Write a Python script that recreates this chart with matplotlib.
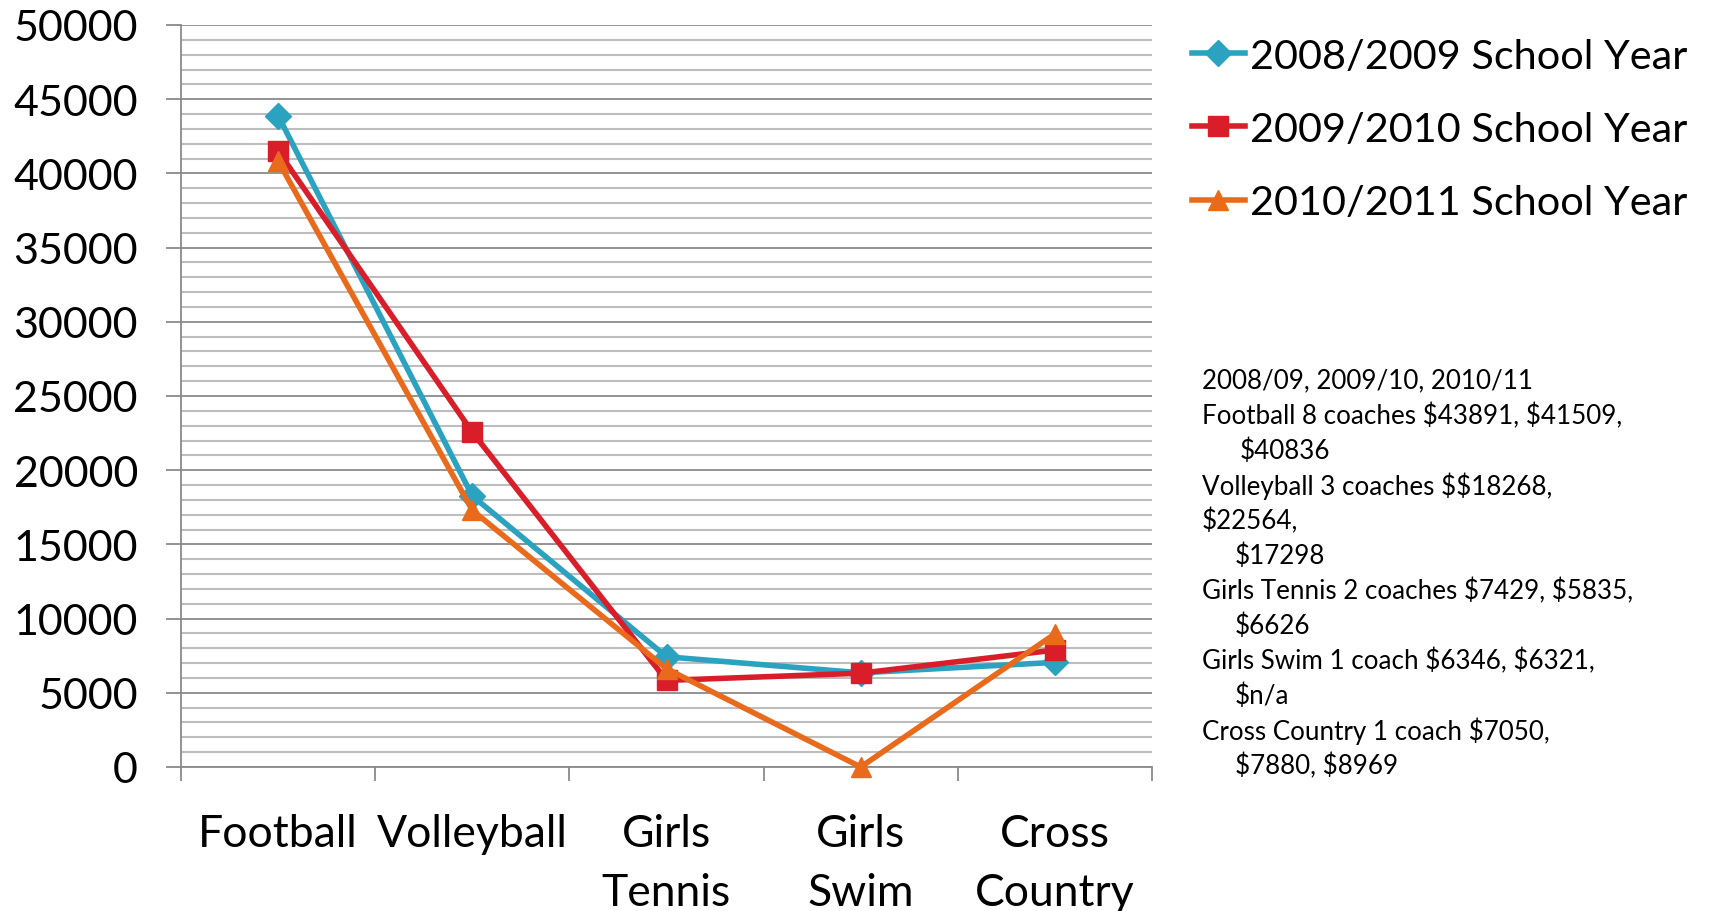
import numpy as np
import matplotlib.pyplot as plt
from matplotlib.ticker import MultipleLocator, FixedLocator, NullFormatter

plt.rcParams['font.family'] = ['Lato', 'DejaVu Sans']

sports = ['Football', 'Volleyball', 'Girls\nTennis', 'Girls\nSwim', 'Cross\nCountry']
y0809 = [43891, 18268, 7429, 6346, 7050]
y0910 = [41509, 22564, 5835, 6321, 7880]
y1011 = [40836, 17298, 6626, 0, 8969]
series_names = ['2008/2009 School Year', '2009/2010 School Year', '2010/2011 School Year']
colors = ['#2aa2c0', '#d91e2a', '#ea6a1c']
markers = ['D', 's', '^']
msizes = [13, 14, 15]

notes = [
    ('2008/09, 2009/10, 2010/11', 0),
    ('Football 8 coaches $43891, $41509,', 0),
    ('$40836', 1),
    ('Volleyball 3 coaches $$18268,', 0),
    ('$22564,', 0),
    ('$17298', 2),
    ('Girls Tennis 2 coaches $7429, $5835,', 0),
    ('$6626', 2),
    ('Girls Swim 1 coach $6346, $6321,', 0),
    ('$n/a', 2),
    ('Cross Country 1 coach $7050,', 0),
    ('$7880, $8969', 2),
]

W, H = 1709, 912
fig = plt.figure(figsize=(W / 100, H / 100), dpi=100)
ax = fig.add_axes([181 / W, 1 - 768 / H, (1152 - 181) / W, (768 - 26) / H])

x = np.arange(len(sports)) + 0.5
for vals, name, c, m, ms in zip([y0809, y0910, y1011], series_names, colors, markers, msizes):
    ax.plot(x, vals, color=c, lw=4, marker=m, ms=ms, label=name, zorder=3, clip_on=False)

ax.set_xlim(0, len(sports))
ax.set_ylim(0, 50000)

ax.yaxis.set_major_locator(MultipleLocator(5000))
ax.yaxis.set_minor_locator(MultipleLocator(1000))
ax.grid(which='minor', axis='y', color='#bdbdbd', lw=1.5, zorder=1)
ax.grid(which='major', axis='y', color='#8a8a8a', lw=1.3, zorder=1)
ax.tick_params(axis='y', which='major', length=11, width=1.3, color='#8a8a8a',
               labelsize=31, pad=20)
ax.tick_params(axis='y', which='minor', length=0)

ax.xaxis.set_major_locator(FixedLocator(np.arange(len(sports) + 1)))
ax.xaxis.set_major_formatter(NullFormatter())
ax.xaxis.set_minor_locator(FixedLocator(x))
ax.set_xticklabels(sports, minor=True)
ax.tick_params(axis='x', which='major', length=10, width=1.3, color='#8a8a8a')
ax.tick_params(axis='x', which='minor', length=0, labelsize=32, pad=33)
for lbl in ax.get_xticklabels(minor=True):
    lbl.set_linespacing(1.55)

for s in ['top', 'right']:
    ax.spines[s].set_visible(False)
for s in ['left', 'bottom']:
    ax.spines[s].set_color('#8a8a8a')
    ax.spines[s].set_linewidth(1.3)

ax.legend(loc='upper left', bbox_to_anchor=(1175 / W, 1 - 22 / H), bbox_transform=fig.transFigure,
          frameon=False, fontsize=29.8, handlelength=1.3, handletextpad=0.1,
          labelspacing=0.88, borderaxespad=0)

for i, (line, ind) in enumerate(notes):
    xpos = 1202 + [0, 38, 33][ind]
    fig.text(xpos / W, 1 - (381 + 35 * i) / H, line, fontsize=18.7, va='center', ha='left',
             parse_math=False)

fig.savefig('out.png', dpi=100)
